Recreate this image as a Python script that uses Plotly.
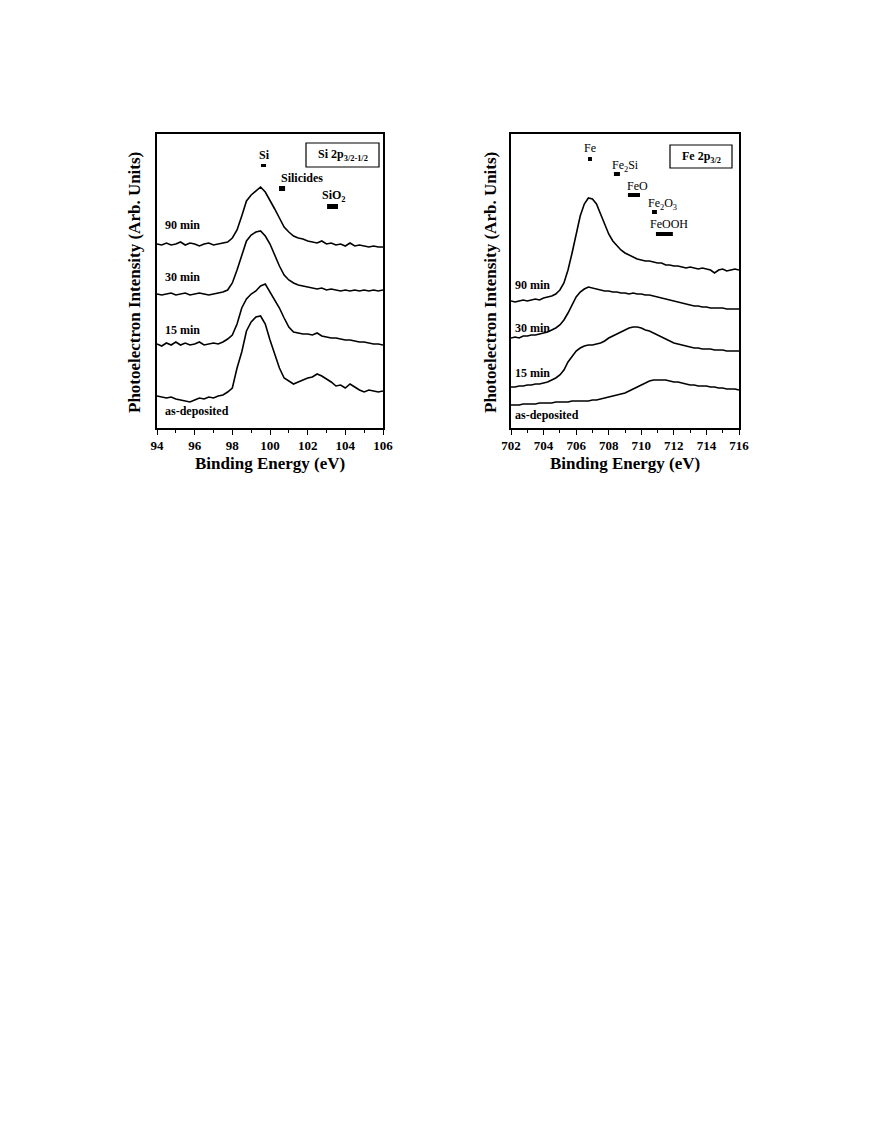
import plotly.graph_objects as go

# ---------------- DATA ----------------
si_energy = [94.0, 94.25, 94.5, 94.75, 95.0, 95.25, 95.5, 95.75, 96.0, 96.25, 96.5, 96.75,
             97.0, 97.25, 97.5, 97.75, 98.0, 98.25, 98.5, 98.75, 99.0, 99.25, 99.5, 99.75,
             100.0, 100.25, 100.5, 100.75, 101.0, 101.25, 101.5, 101.75, 102.0, 102.25, 102.5, 102.75,
             103.0, 103.25, 103.5, 103.75, 104.0, 104.25, 104.5, 104.75, 105.0, 105.25, 105.5, 105.75, 106.0]

si_90min = [184, 183, 185, 183, 184, 186, 183, 185, 184, 182, 184, 185,
            183, 184, 185, 186, 190, 198, 212, 227, 233, 237, 241, 236,
            228, 219, 210, 201, 196, 192, 190, 189, 187, 186, 185, 187,
            184, 185, 183, 184, 182, 185, 182, 183, 182, 181, 182, 181, 181]
si_30min = [134, 133, 134, 135, 133, 134, 135, 133, 134, 135, 134, 133,
            134, 135, 136, 138, 145, 158, 172, 187, 193, 196, 197, 192,
            184, 172, 162, 153, 148, 145, 143, 142, 141, 140, 139, 140,
            138, 139, 138, 137, 138, 137, 138, 137, 138, 137, 138, 137, 138]
si_15min = [84, 82, 85, 83, 86, 83, 85, 83, 84, 86, 83, 84,
            85, 84, 86, 89, 93, 104, 120, 129, 134, 137, 142, 144,
            136, 128, 120, 110, 101, 96, 95, 94, 94, 93, 95, 92,
            91, 90, 90, 89, 88, 88, 87, 86, 86, 85, 84, 84, 83]
si_asdep = [32, 31, 30, 31, 29, 28, 27, 26, 28, 30, 29, 31,
            30, 32, 33, 36, 40, 60, 76, 97, 106, 111, 112, 104,
            88, 75, 60, 50, 47, 44, 46, 48, 50, 51, 54, 52,
            49, 46, 42, 43, 40, 44, 41, 38, 36, 38, 37, 36, 37]

fe_energy = [702.0, 702.25, 702.5, 702.75, 703.0, 703.25, 703.5, 703.75, 704.0, 704.25, 704.5, 704.75,
             705.0, 705.25, 705.5, 705.75, 706.0, 706.25, 706.5, 706.75, 707.0, 707.25, 707.5, 707.75,
             708.0, 708.25, 708.5, 708.75, 709.0, 709.25, 709.5, 709.75, 710.0, 710.25, 710.5, 710.75,
             711.0, 711.25, 711.5, 711.75, 712.0, 712.25, 712.5, 712.75, 713.0, 713.25, 713.5, 713.75,
             714.0, 714.25, 714.5, 714.75, 715.0, 715.25, 715.5, 715.75, 716.0]

fe_90min = [127, 126, 127, 128, 127, 128, 129, 128, 130, 131, 132, 134,
            138, 145, 158, 175, 195, 212, 224, 230, 229, 224, 214, 204,
            194, 187, 182, 178, 175, 173, 171, 169, 168, 167, 167, 166,
            165, 165, 163, 163, 162, 162, 161, 160, 161, 160, 159, 160,
            159, 158, 155, 158, 159, 157, 158, 159, 158]
fe_30min = [90, 91, 90, 92, 92, 93, 93, 94, 95, 96, 98, 100,
            103, 108, 115, 123, 131, 136, 139, 141, 140, 139, 138, 137,
            137, 136, 136, 135, 135, 134, 135, 134, 134, 133, 133, 132,
            131, 130, 129, 128, 127, 126, 125, 124, 123, 122, 122, 121,
            121, 120, 120, 120, 120, 119, 119, 119, 119]
fe_15min = [41, 41, 42, 42, 43, 43, 44, 44, 45, 46, 48, 50,
            53, 58, 66, 72, 77, 80, 82, 83, 83, 84, 85, 87,
            90, 92, 94, 96, 98, 100, 101, 101, 100, 98, 97, 95,
            93, 91, 89, 87, 85, 84, 83, 82, 81, 80, 80, 79,
            79, 79, 78, 78, 78, 77, 77, 77, 77]
fe_asdep = [23, 23, 23, 24, 24, 24, 24, 25, 25, 25, 25, 26,
            26, 26, 26, 27, 27, 27, 27, 27, 28, 28, 29, 30,
            31, 32, 33, 34, 35, 37, 39, 41, 43, 45, 47, 48,
            48, 48, 48, 47, 46, 46, 45, 44, 43, 43, 42, 42,
            42, 41, 41, 40, 40, 39, 39, 39, 38]

series_labels = ["90 min", "30 min", "15 min", "as-deposited"]

# reference binding-energy ranges (eV) for chemical states
si_species = ["Si", "Silicides", "SiO<sub>2</sub>"]
si_species_lo = [99.52, 100.48, 103.03]
si_species_hi = [99.79, 100.80, 103.61]

fe_species = ["Fe", "Fe<sub>2</sub>Si", "FeO", "Fe<sub>2</sub>O<sub>3</sub>", "FeOOH"]
fe_species_lo = [706.73, 708.32, 709.18, 710.66, 710.90]
fe_species_hi = [706.97, 708.69, 709.92, 710.96, 711.94]

si_ticks = [94, 96, 98, 100, 102, 104, 106]
fe_ticks = [702, 704, 706, 708, 710, 712, 714, 716]

# ---------------- FIGURE ----------------
W, H = 876, 1140
SERIF = "Liberation Serif, Times New Roman, serif"

def px(x):
    return x / W

def py(y):
    return 1 - y / H

fig = go.Figure()

for ys in [si_90min, si_30min, si_15min, si_asdep]:
    fig.add_trace(go.Scatter(x=si_energy, y=ys, mode="lines", xaxis="x", yaxis="y",
                             line=dict(color="black", width=1.6), showlegend=False,
                             hoverinfo="skip"))
for ys in [fe_90min, fe_30min, fe_15min, fe_asdep]:
    fig.add_trace(go.Scatter(x=fe_energy, y=ys, mode="lines", xaxis="x2", yaxis="y2",
                             line=dict(color="black", width=1.6), showlegend=False,
                             hoverinfo="skip"))

ydom = [py(428), py(134)]
axis_common = dict(showline=True, linecolor="black", linewidth=1.5, mirror=True,
                   showgrid=False, zeroline=False, automargin=False)

fig.update_layout(
    template="none",
    width=W, height=H, autosize=False,
    margin=dict(l=0, r=0, t=0, b=0, pad=0),
    paper_bgcolor="white", plot_bgcolor="white",
    xaxis=dict(domain=[px(157), px(383)], range=[94, 106], tickvals=si_ticks,
               ticks="outside", ticklen=5, tickwidth=1.3, tickcolor="black",
               minor=dict(dtick=1, ticks="outside", ticklen=3, tickwidth=1.2, tickcolor="black"),
               tickfont=dict(family=SERIF, size=13, color="black", weight="bold"),
               anchor="y", **axis_common),
    yaxis=dict(domain=ydom, range=[0, 294], showticklabels=False, ticks="",
               anchor="x", **axis_common),
    xaxis2=dict(domain=[px(511), px(739)], range=[702, 716], tickvals=fe_ticks,
                ticks="outside", ticklen=5, tickwidth=1.3, tickcolor="black",
                minor=dict(dtick=1, ticks="outside", ticklen=3, tickwidth=1.2, tickcolor="black"),
                tickfont=dict(family=SERIF, size=13, color="black", weight="bold"),
                anchor="y2", **axis_common),
    yaxis2=dict(domain=ydom, range=[0, 294], showticklabels=False, ticks="",
                anchor="x2", **axis_common),
)

ann = []
shapes = []

# curve labels (positions in data units of each panel)
si_label_h = [203, 151, 98, 17]
fe_label_h = [143, 100, 55, 13]
for lab, h in zip(series_labels, si_label_h):
    ann.append(dict(x=94.3, y=h, xref="x", yref="y", text=lab, showarrow=False,
                    xanchor="left", yanchor="middle",
                    font=dict(family=SERIF, size=12, color="black", weight="bold")))
for lab, h in zip(series_labels, fe_label_h):
    ann.append(dict(x=702.12, y=h, xref="x2", yref="y2", text=lab, showarrow=False,
                    xanchor="left", yanchor="middle",
                    font=dict(family=SERIF, size=12, color="black", weight="bold")))

# Si species markers
si_bar_h = [(261, 264), (237, 242), (219, 224)]
si_text_pos = [(99.72, 273), (101.72, 250), (103.4, 232)]
for name, lo, hi, (b0, b1), (tx, ty) in zip(si_species, si_species_lo, si_species_hi, si_bar_h, si_text_pos):
    shapes.append(dict(type="rect", xref="x", yref="y", x0=lo, x1=hi, y0=b0, y1=b1,
                       fillcolor="black", line=dict(width=0)))
    ann.append(dict(x=tx, y=ty, xref="x", yref="y", text=name, showarrow=False,
                    xanchor="center", yanchor="middle",
                    font=dict(family=SERIF, size=12, color="black", weight="bold")))

# Fe species markers
fe_bar_h = [(267, 271), (252, 256), (231, 235), (214, 218), (192, 196)]
fe_text_pos = [(706.82, 280), (709.05, 262), (709.75, 242), (711.3, 224), (711.72, 204)]
for name, lo, hi, (b0, b1), (tx, ty) in zip(fe_species, fe_species_lo, fe_species_hi, fe_bar_h, fe_text_pos):
    shapes.append(dict(type="rect", xref="x2", yref="y2", x0=lo, x1=hi, y0=b0, y1=b1,
                       fillcolor="black", line=dict(width=0)))
    ann.append(dict(x=tx, y=ty, xref="x2", yref="y2", text=name, showarrow=False,
                    xanchor="center", yanchor="middle",
                    font=dict(family=SERIF, size=12, color="black")))

# boxed panel titles
shapes.append(dict(type="rect", xref="paper", yref="paper", x0=px(306), x1=px(379),
                   y0=py(167), y1=py(143), line=dict(color="black", width=1.2), fillcolor="white",
                   layer="below"))
ann.append(dict(x=px(342.5), y=py(155), xref="paper", yref="paper",
                text="Si 2p<sub>3/2-1/2</sub>", showarrow=False,
                xanchor="center", yanchor="middle",
                font=dict(family=SERIF, size=12, color="black", weight="bold")))
shapes.append(dict(type="rect", xref="paper", yref="paper", x0=px(670), x1=px(732),
                   y0=py(168), y1=py(145), line=dict(color="black", width=1.2), fillcolor="white",
                   layer="below"))
ann.append(dict(x=px(701), y=py(156.5), xref="paper", yref="paper",
                text="Fe 2p<sub>3/2</sub>", showarrow=False,
                xanchor="center", yanchor="middle",
                font=dict(family=SERIF, size=12, color="black", weight="bold")))

# axis titles
for cx in [270, 625]:
    ann.append(dict(x=px(cx), y=py(463), xref="paper", yref="paper",
                    text="Binding Energy (eV)", showarrow=False,
                    xanchor="center", yanchor="middle",
                    font=dict(family=SERIF, size=17, color="black", weight="bold")))
for cx in [134, 490]:
    ann.append(dict(x=px(cx), y=py(283), xref="paper", yref="paper",
                    text="Photoelectron Intensity (Arb. Units)", showarrow=False,
                    textangle=-90, xanchor="center", yanchor="middle",
                    font=dict(family=SERIF, size=17, color="black", weight="bold")))

fig.update_layout(annotations=ann, shapes=shapes)
fig.write_html("out.html", config={"displayModeBar": False},
               post_script="document.body.style.margin='0';")
